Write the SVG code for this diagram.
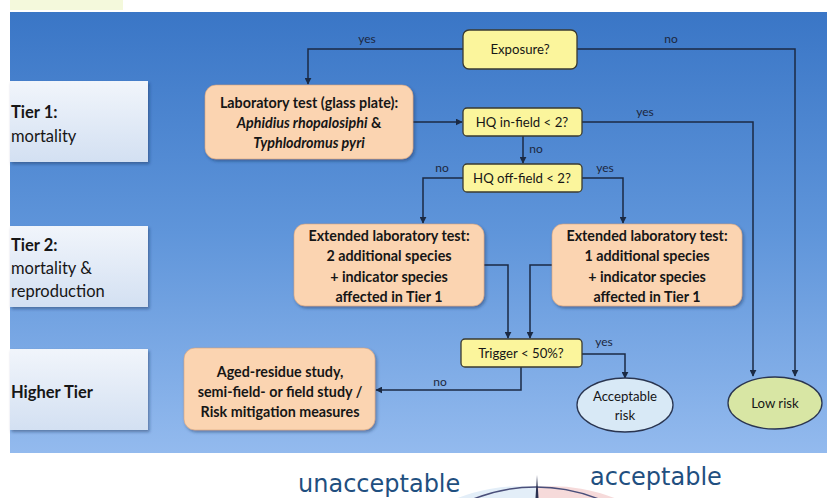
<svg xmlns="http://www.w3.org/2000/svg" width="827" height="498" viewBox="0 0 827 498">
<defs>
<linearGradient id="bg" x1="0" y1="0" x2="0" y2="1">
<stop offset="0" stop-color="#3a76c6"/>
<stop offset="0.5" stop-color="#5f95da"/>
<stop offset="1" stop-color="#93baee"/>
</linearGradient>
<linearGradient id="tier" x1="0" y1="0" x2="0" y2="1">
<stop offset="0" stop-color="#f1f5fb"/>
<stop offset="1" stop-color="#d3e0f2"/>
</linearGradient>
<filter id="sh" x="-10%" y="-10%" width="125%" height="130%">
<feDropShadow dx="1.5" dy="2" stdDeviation="1.5" flood-color="#1a2f55" flood-opacity="0.45"/>
</filter>
<marker id="ah" viewBox="0 0 10 10" refX="9" refY="5" markerWidth="7" markerHeight="7" orient="auto" markerUnits="userSpaceOnUse">
<path d="M0,0 L10,5 L0,10 z" fill="#1b2a44"/>
</marker>
<clipPath id="gclip"><rect x="0" y="454" width="827" height="44"/></clipPath>
</defs>
<style>
text{font-family:Lato,"Open Sans","Liberation Sans",sans-serif;fill:#161616}
.q{fill:#fbf59c;stroke:#3a3a30;stroke-width:1.3}
.o{fill:#fbd4b1;stroke:#d8a27a;stroke-width:0.6}
.tb{fill:url(#tier)}
.bt{font-size:14.3px;font-weight:bold;text-anchor:middle}
.qt{font-size:13.2px;text-anchor:middle}
.lab{font-size:12px;fill:#1c2740;text-anchor:middle}
.tt{font-size:16.5px}
.c{fill:none;stroke:#1b2a44;stroke-width:1.5}
.big{font-size:24px;fill:#1f4f80;font-family:"DejaVu Sans",Verdana,sans-serif}
</style>
<rect x="0" y="0" width="827" height="498" fill="#ffffff"/>
<rect x="10" y="0" width="113" height="10" fill="#f4f9dc"/>
<rect x="10" y="12" width="817" height="441" fill="url(#bg)"/>

<g id="tier1"><rect class="tb" x="10" y="81" width="138" height="81" filter="url(#sh)"/>
<text class="tt" x="11" y="118" font-weight="bold">Tier 1:</text>
<text class="tt" x="11" y="142">mortality</text></g>
<g id="tier2"><rect class="tb" x="10" y="226" width="138" height="81" filter="url(#sh)"/>
<text class="tt" x="11" y="251" font-weight="bold">Tier 2:</text>
<text class="tt" x="11" y="274">mortality &amp;</text>
<text class="tt" x="11" y="297">reproduction</text></g>
<g id="higher"><rect class="tb" x="10" y="349" width="138" height="81" filter="url(#sh)"/>
<text class="tt" x="11" y="398" font-weight="bold">Higher Tier</text></g>

<g id="connectors">
<polyline class="c" points="463,49 308,49 308,84" marker-end="url(#ah)"/>
<polyline class="c" points="577,49 795,49 795,376" marker-end="url(#ah)"/>
<polyline class="c" points="413,122 462,122" marker-end="url(#ah)"/>
<polyline class="c" points="582,122 753,122 753,376" marker-end="url(#ah)"/>
<polyline class="c" points="523,136 523,163" marker-end="url(#ah)"/>
<polyline class="c" points="463,178 423,178 423,223" marker-end="url(#ah)"/>
<polyline class="c" points="582,178 623,178 623,223" marker-end="url(#ah)"/>
<polyline class="c" points="484,265 508,265 508,338" marker-end="url(#ah)"/>
<polyline class="c" points="552,265 530,265 530,338" marker-end="url(#ah)"/>
<polyline class="c" points="582,354 625,354 625,378" marker-end="url(#ah)"/>
<polyline class="c" points="521,367 521,390 376,390" marker-end="url(#ah)"/>
<text class="lab" x="367" y="43">yes</text>
<text class="lab" x="671" y="43">no</text>
<text class="lab" x="645" y="116">yes</text>
<text class="lab" x="536" y="153">no</text>
<text class="lab" x="442" y="172">no</text>
<text class="lab" x="605" y="172">yes</text>
<text class="lab" x="604" y="346">yes</text>
<text class="lab" x="440" y="386">no</text>
</g>

<g id="exposure"><rect class="q" x="463" y="30" width="114" height="39" rx="6"/>
<text class="qt" x="520" y="54">Exposure?</text></g>

<g id="labtest"><rect class="o" x="205" y="85" width="208" height="74" rx="11" filter="url(#sh)"/>
<text class="bt" x="309" y="108">Laboratory test (glass plate):</text>
<text class="bt" x="309" y="128"><tspan font-style="italic">Aphidius rhopalosiphi</tspan> &amp;</text>
<text class="bt" x="309" y="148" font-style="italic">Typhlodromus pyri</text></g>

<g id="hqin"><rect class="q" x="463" y="108" width="119" height="28" rx="4"/>
<text class="qt" x="522" y="126.5">HQ in-field &lt; 2?</text></g>

<g id="hqoff"><rect class="q" x="463" y="164" width="119" height="28" rx="4"/>
<text class="qt" x="522" y="182.5">HQ off-field &lt; 2?</text></g>

<g id="ext2"><rect class="o" x="294" y="224" width="190" height="82" rx="11" filter="url(#sh)"/>
<text class="bt" x="389" y="241">Extended laboratory test:</text>
<text class="bt" x="389" y="261">2 additional species</text>
<text class="bt" x="389" y="282">+ indicator species</text>
<text class="bt" x="389" y="302">affected in Tier 1</text></g>

<g id="ext1"><rect class="o" x="552" y="224" width="190" height="82" rx="11" filter="url(#sh)"/>
<text class="bt" x="647" y="241">Extended laboratory test:</text>
<text class="bt" x="647" y="261">1 additional species</text>
<text class="bt" x="647" y="282">+ indicator species</text>
<text class="bt" x="647" y="302">affected in Tier 1</text></g>

<g id="trigger"><rect class="q" x="461" y="339" width="121" height="28" rx="4"/>
<text class="qt" x="521" y="357.5">Trigger &lt; 50%?</text></g>

<g id="aged"><rect class="o" x="184" y="348" width="191" height="82" rx="11" filter="url(#sh)"/>
<text class="bt" x="280" y="377">Aged-residue study,</text>
<text class="bt" x="280" y="397">semi-field- or field study /</text>
<text class="bt" x="280" y="417">Risk mitigation measures</text></g>

<g id="acceptable"><ellipse cx="625" cy="405" rx="48" ry="27" fill="#d8e9f6" stroke="#2a3550" stroke-width="1.3"/>
<text class="qt" x="625" y="401">Acceptable</text>
<text class="qt" x="625" y="420">risk</text></g>

<g id="lowrisk"><ellipse cx="775" cy="403" rx="47" ry="26" fill="#d8e6a4" stroke="#2a3550" stroke-width="1.3"/>
<text class="qt" x="775" y="408">Low risk</text></g>

<g id="gauge" clip-path="url(#gclip)">
<path d="M536,487 A169,169 0 0 0 380,560 L536,656 z" fill="#e3eef8"/>
<path d="M536,487 A169,169 0 0 1 692,560 L536,656 z" fill="#f6dada"/>
<circle cx="536" cy="656" r="169" fill="none" stroke="#4a4f7a" stroke-width="1.5"/>
<polygon points="537,475 538.5,498 535.5,498" fill="#2a3050"/>
</g>
<text class="big" x="298" y="492">unacceptable</text>
<text class="big" x="590" y="485">acceptable</text>
</svg>
